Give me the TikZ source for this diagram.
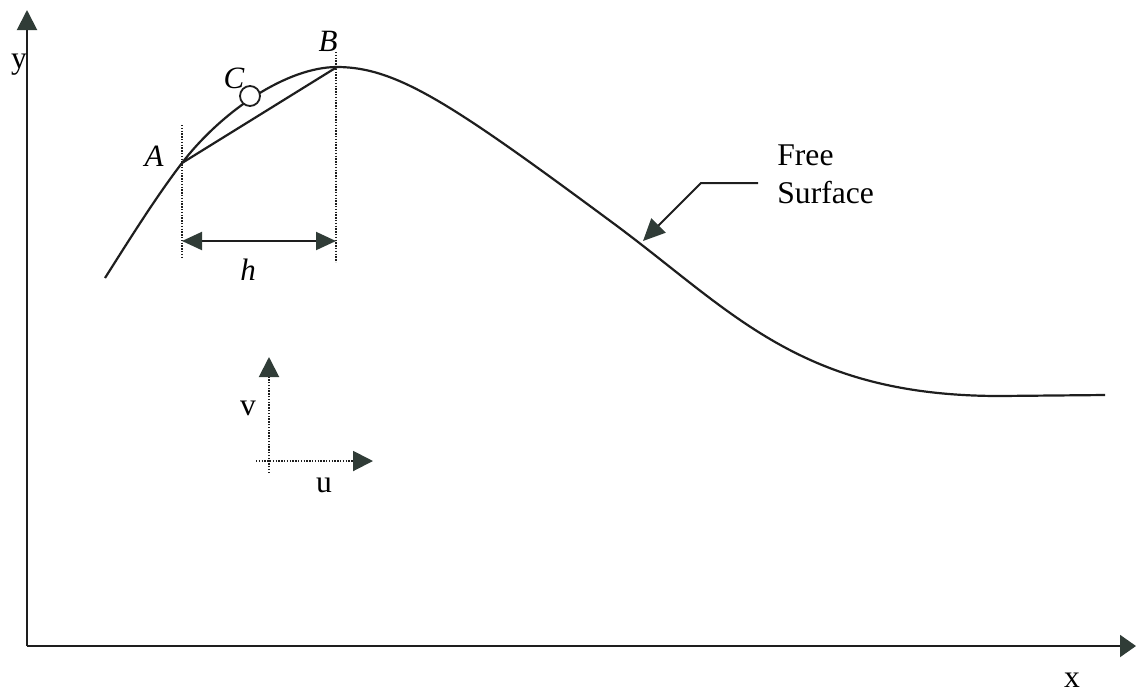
\documentclass[tikz,border=0pt]{standalone}
\usepackage{fontspec}
\setmainfont{Liberation Serif}
\usetikzlibrary{arrows.meta}
\definecolor{headcol}{RGB}{48,60,55}
\definecolor{linecol}{RGB}{30,30,30}
\tikzset{
  bigtip/.style={-{Triangle[length=10pt,width=10pt,fill=headcol,color=headcol]}},
  both tips/.style={{Triangle[length=10pt,width=9pt,fill=headcol,color=headcol]}-{Triangle[length=10pt,width=9pt,fill=headcol,color=headcol]}},
  axisline/.style={line width=1pt,draw=linecol},
  surf/.style={line width=1.1pt,draw=linecol},
  guide/.style={dash pattern=on 0.7pt off 0.7pt,line width=1pt,draw=linecol},
  lbl/.style={anchor=base,inner sep=0pt,font=\fontsize{15.8}{19}\selectfont},
  ilbl/.style={anchor=base,inner sep=0pt,font=\fontsize{15.5}{19}\selectfont\itshape},
}
\begin{document}
\begin{tikzpicture}[x=0.5pt,y=-0.5pt]
\useasboundingbox (0,0) rectangle (1136,693);
% axes
\coordinate (O) at (27,646);
\coordinate (ytip) at (27,10);
\coordinate (xtip) at (1136,646);
\draw[axisline,bigtip] (O) -- (ytip);
\draw[axisline,-{Triangle[length=8pt,width=11pt,fill=headcol,color=headcol]}] (O) -- (xtip);
\node[lbl] (ylab) at (19,68) {y};
\node[lbl] (xlab) at (1072,687) {x};
% free surface curve
\coordinate (S0) at (105,278);
\coordinate (A) at (182,163);
\coordinate (B) at (337,67);
\coordinate (C) at (250,96);
\coordinate (I) at (613,223);
\coordinate (F) at (1000,396);
\coordinate (E) at (1105,395);
\draw[surf] (S0) .. controls (130,238.5) and (157,195.5) .. (A)
  .. controls (222,111) and (287,67) .. (B)
  .. controls (397,67) and (453,104.6) .. (I)
  .. controls (733,311.8) and (800,396) .. (F) -- (E);
% chord
\draw[surf] (A) -- (B);
\node[circle,draw=linecol,line width=0.9pt,fill=white,minimum size=10pt,inner sep=0pt] (Cc) at (C) {};
% labels
\node[ilbl] (Alab) at (154,166) {A};
\node[ilbl] (Blab) at (328,51) {B};
\node[ilbl] (Clab) at (234,88) {C};
% dotted verticals
\coordinate (Atop) at (182,125);
\coordinate (Abot) at (182,258);
\coordinate (Btop) at (336,52);
\coordinate (Bbot) at (336,262);
\draw[guide] (Atop) -- (Abot);
\draw[guide] (Btop) -- (Bbot);
% h dimension
\coordinate (hL) at (182,241);
\coordinate (hR) at (336,241);
\draw[line width=1pt,draw=linecol,both tips] (hL) -- (hR);
\node[ilbl] (hlab) at (248,280) {h};
% u v
\coordinate (vbot) at (269,473);
\coordinate (vtip) at (269,357);
\coordinate (uleft) at (256,461);
\coordinate (utip) at (373,461);
\draw[guide,bigtip] (vbot) -- (vtip);
\draw[guide,bigtip] (uleft) -- (utip);
\node[lbl] (vlab) at (248,415) {v};
\node[lbl] (ulab) at (324,492) {u};
% free surface leader
\node[lbl,anchor=base west] (free) at (777,165) {Free};
\node[lbl,anchor=base west] (surface) at (777,203) {Surface};
\coordinate (fsStart) at (758,183);
\coordinate (fsBend) at (701,183);
\coordinate (fsTip) at (643,241);
\draw[line width=1pt,draw=linecol,-{Triangle[length=11pt,width=10pt,fill=headcol,color=headcol]}] (fsStart) -- (fsBend) -- (fsTip);
\end{tikzpicture}
\end{document}
